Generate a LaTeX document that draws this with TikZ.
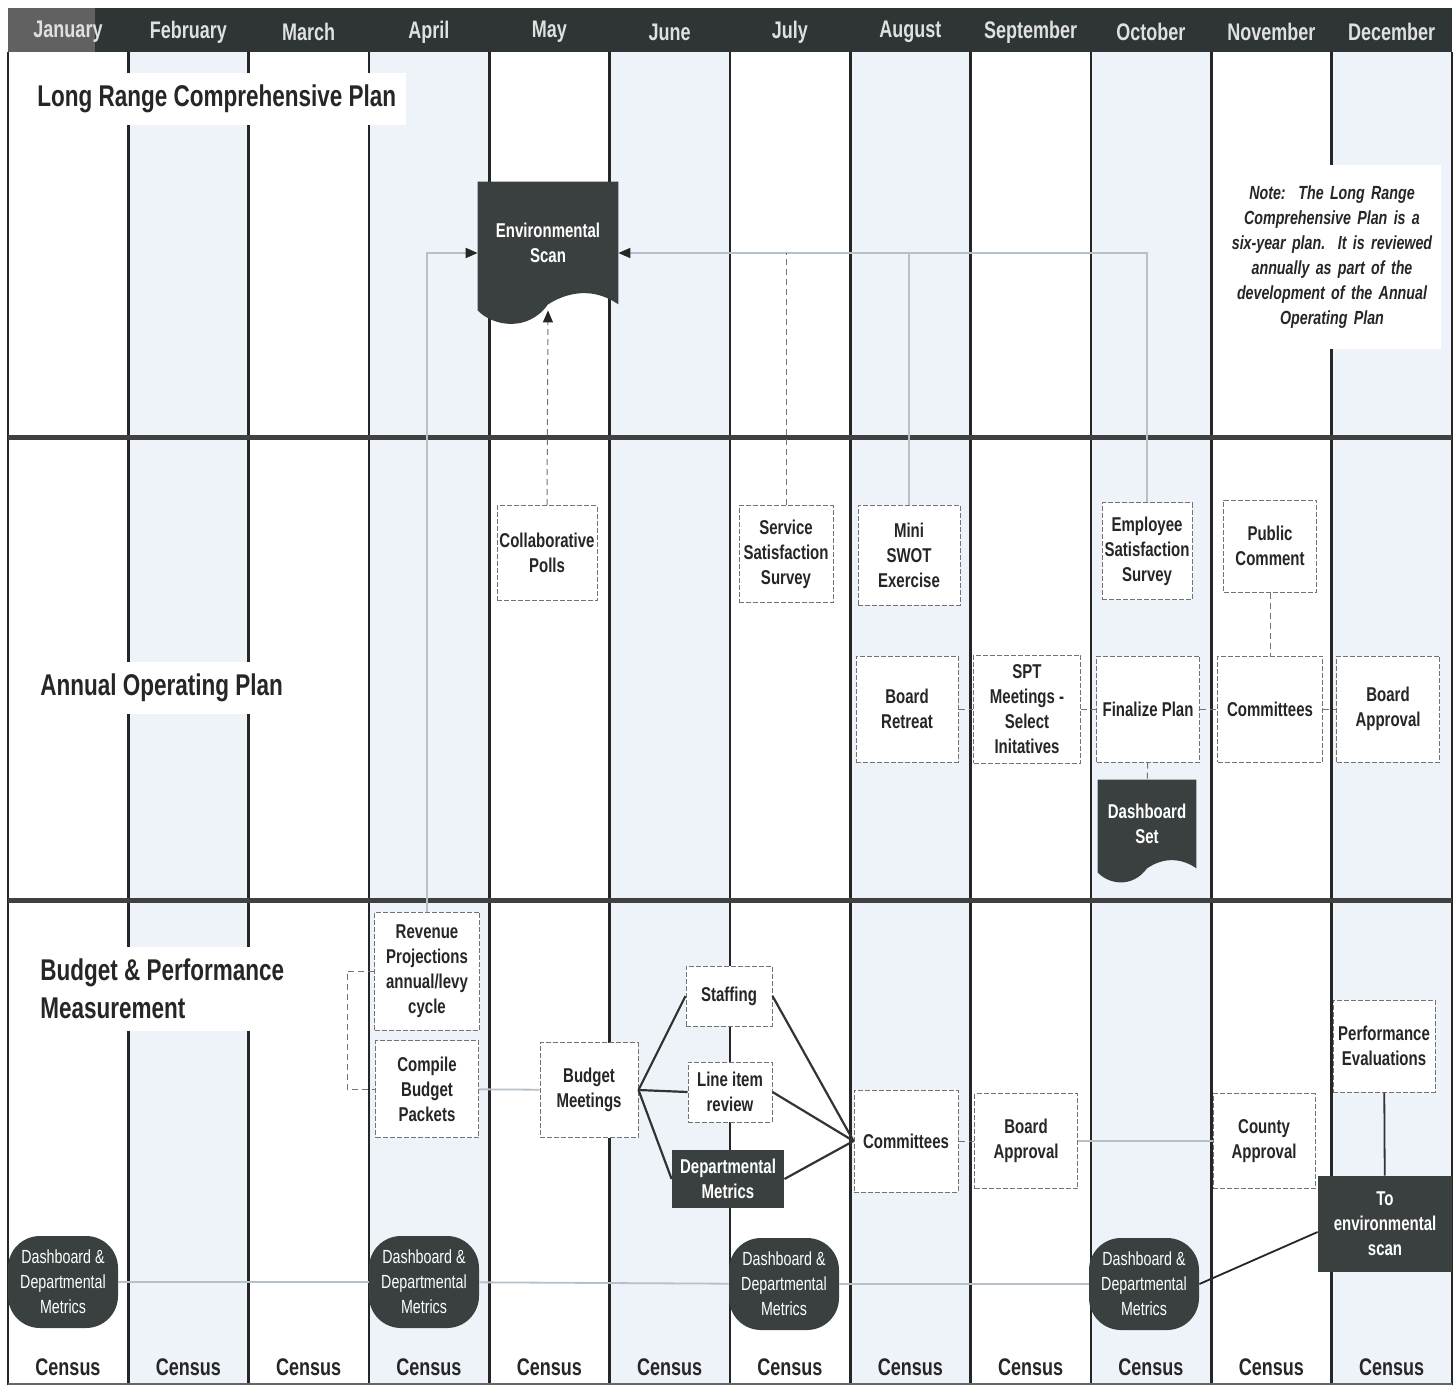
\documentclass[tikz,border=0pt]{standalone}
\usepackage{fontspec}
\setmainfont{Liberation Sans}[FakeStretch=0.75]
\usetikzlibrary{
arrows.meta,
backgrounds
}
\definecolor{ink}{HTML}{3A3F3F}
\definecolor{headbar}{HTML}{2F3434}
\definecolor{tint}{HTML}{EDF3F8}
\definecolor{feedgray}{HTML}{B5C0C8}

\begin{document}
\begin{tikzpicture}[
    x=0.5pt, y=-0.5pt,
    >={Triangle[length=6pt,width=5pt,color=black!85]},
    dims/.style 2 args={minimum width=#1pt, minimum height=#2pt},
    box/.style={draw=black!55, dash pattern=on 2.5pt off 1pt, line width=0.5pt, fill=white,
      align=center, inner sep=1pt, text=black!85, font=\bfseries\fontsize{10}{12.5}\selectfont},
    dark/.style={fill=ink, align=center, inner sep=1pt, text=white,
      font=\bfseries\fontsize{10}{12.5}\selectfont},
    metric/.style={fill=ink, rounded corners=16pt, align=center, inner sep=1pt, text=white,
      minimum width=55pt, minimum height=46pt, font=\fontsize{9.5}{12.5}\selectfont},
    lane/.style={fill=white, anchor=west, align=left, text=black!85, inner xsep=5pt, inner ysep=6pt,
      font=\bfseries\fontsize{15}{19}\selectfont},
    month/.style={text=white!88!black, font=\bfseries\fontsize{12}{14}\selectfont},
    census/.style={text=black!85, font=\bfseries\fontsize{12}{14}\selectfont},
    feed/.style={draw=feedgray, line width=0.9pt},
    link/.style={draw=black!55, densely dashed, line width=0.5pt},
    spoke/.style={draw=black!80, line width=1.1pt}
  ]
  \useasboundingbox (0,0) rectangle (1455,1385);

  % calendar grid
  \begin{scope}[on background layer]
    \foreach \m [count=\i from 0] in {January,February,March,April,May,June,July,August,September,October,November,December}{
      \ifodd\i \fill[tint] ({8+120.33*\i},52) rectangle ({128.33+120.33*\i},1385); \fi
      \node[census] (c\i) at ({68+120.33*\i},1367) {Census};
    }
    \fill[headbar] (8,8) rectangle (1452,52);
    \fill[black!62] (8,8) rectangle (95,52);
    \foreach \m [count=\i from 0] in {January,February,March,April,May,June,July,August,September,October,November,December}
      \node[month] (m\i) at ({68+120.33*\i},32) {\m};
    \foreach \i in {0,...,12}
      \draw[black!85, line width=1.2pt] ({8+120.33*\i},52) -- ({8+120.33*\i},1385);
    \draw[black!75, line width=2.5pt] (8,437) -- (1452,437);
    \draw[black!75, line width=2.5pt] (8,900) -- (1452,900);
    \draw[black!60, line width=0.6pt] (8,1384) -- (1452,1384);
  \end{scope}

  \node[lane] (lrcp) at (27,99) {Long Range Comprehensive Plan};
  \node[lane] (aop) at (30,688) {Annual Operating Plan};
  \node[lane] (bpm) at (30,989) {Budget \& Performance\\Measurement};

  \node[fill=white, text width=107pt, align=center, minimum height=92pt, text=black!85, inner xsep=1pt,
    font=\bfseries\itshape\fontsize{9.5}{12.5}\selectfont] (note) at (1332,257)
    {Note:\ \ The Long Range\\Comprehensive Plan is a\\six-year plan.\ \ It is reviewed\\annually as part of the\\development of the Annual\\Operating Plan};

  % long range plan
  \node[dark, fill=none, dims={70}{61}] (envscan) at (548,243) {Environmental\\Scan};

  % annual operating plan
  \node[box, dims={50}{47.5}] (collab) at (547,553) {Collaborative\\Polls};
  \node[box, dims={47}{48.5}] (servsurvey) at (786,554) {Service\\Satisfaction\\Survey};
  \node[box, dims={51}{50}] (swot) at (909,555) {Mini\\SWOT\\Exercise};
  \node[box, dims={45}{48.5}] (empsurvey) at (1147,551) {Employee\\Satisfaction\\Survey};
  \node[box, dims={46.5}{46}] (pubcomment) at (1270,546) {Public\\Comment};
  \node[box, dims={51}{53}] (retreat) at (907,709) {Board\\Retreat};
  \node[box, dims={53.5}{54}] (spt) at (1027,709) {SPT\\Meetings -\\Select\\Initatives};
  \node[box, dims={51.5}{53}] (finalize) at (1148,709) {Finalize Plan};
  \node[box, dims={52.5}{53}] (aopcommittees) at (1270,709) {Committees};
  \node[box, dims={51.5}{53}] (aopapproval) at (1388,709) {Board\\Approval};
  \node[dark, fill=none, dims={49}{44}] (dashset) at (1147,824) {Dashboard\\Set};

  % budget & performance measurement
  \node[box, dims={52.5}{59}] (revproj) at (427,971) {Revenue\\Projections\\annual/levy\\cycle};
  \node[box, dims={51.5}{48.5}] (compile) at (427,1089) {Compile\\Budget\\Packets};
  \node[box, dims={49}{47.5}] (budget) at (589,1090) {Budget\\Meetings};
  \node[box, dims={43}{30}] (staffing) at (729,996) {Staffing};
  \node[box, dims={42}{30}] (lineitem) at (730,1092) {Line item\\review};
  \node[dark, dims={56}{29}] (deptmetrics) at (728,1179) {Departmental\\Metrics};
  \node[box, dims={52}{51}] (bpmcommittees) at (906,1141) {Committees};
  \node[box, dims={51.5}{47.5}] (bpmapproval) at (1026,1141) {Board\\Approval};
  \node[box, dims={51}{47.5}] (countyapproval) at (1264,1141) {County\\Approval};
  \node[box, dims={51}{46}] (perfeval) at (1384,1046) {Performance\\Evaluations};
  \node[dark, dims={67}{48}] (toscan) at (1385,1224) {To\\environmental\\scan};
  \node[metric] (dash1) at (63,1282) {Dashboard \&\\Departmental\\Metrics};
  \node[metric] (dash2) at (424,1282) {Dashboard \&\\Departmental\\Metrics};
  \node[metric] (dash3) at (784,1284) {Dashboard \&\\Departmental\\Metrics};
  \node[metric] (dash4) at (1144,1284) {Dashboard \&\\Departmental\\Metrics};

  \begin{scope}[on background layer]
    \fill[ink] (envscan.north west) -- (envscan.north east) -- (envscan.south east)
      .. controls ([shift={(-20,-14)}]envscan.south east) and ([shift={(-45,-16)}]envscan.south east) .. (envscan.south)
      .. controls ([shift={(-20,28)}]envscan.south) and ([shift={(-55,22)}]envscan.south) .. ([shift={(0,6)}]envscan.south west) -- cycle;
    \fill[ink] (dashset.north west) -- (dashset.north east) -- (dashset.south east)
      .. controls ([shift={(-14,-10)}]dashset.south east) and ([shift={(-32,-12)}]dashset.south east) .. (dashset.south)
      .. controls ([shift={(-15,20)}]dashset.south) and ([shift={(-38,16)}]dashset.south) .. ([shift={(0,4)}]dashset.south west) -- cycle;
  \end{scope}

  \coordinate (scanrow) at ([yshift=-5pt]envscan.west);
  \draw[feed,->] (revproj.north) |- (scanrow);
  \draw[feed,->] (empsurvey.north) |- ([yshift=-5pt]envscan.east);
  \draw[link] (servsurvey.north) -- (servsurvey.north |- scanrow);
  \draw[feed] (swot.north) -- (swot.north |- scanrow);
  \draw[link,->] (collab.north) -- ([yshift=-3pt]envscan.south);

  \draw[link] (retreat) -- (spt);
  \draw[link] (spt) -- (finalize);
  \draw[link] (finalize) -- (aopcommittees);
  \draw[link] (aopcommittees) -- (aopapproval);
  \draw[link] (pubcomment) -- (aopcommittees);
  \draw[link] (finalize) -- (dashset);

  \draw[link] (revproj.west) -- ++(-27,0) |- (compile.west);
  \draw[feed] (compile) -- (budget);
  \foreach \t in {staffing,lineitem,deptmetrics}{
    \draw[spoke] (budget.east) -- (\t.west);
    \draw[spoke] (\t.east) -- (bpmcommittees.west);
  }
  \draw[link] (bpmcommittees) -- (bpmapproval);
  \draw[feed] (bpmapproval) -- (countyapproval);
  \draw[spoke, line width=0.9pt] (perfeval) -- (toscan);
  \draw[black!85, line width=0.9pt] (dash4.east) -- ([yshift=-4pt]toscan.west);
  \draw[feed] (dash1) -- (dash2);
  \draw[feed] (dash2) -- (dash3);
  \draw[feed] (dash3) -- (dash4);
\end{tikzpicture}
\end{document}
